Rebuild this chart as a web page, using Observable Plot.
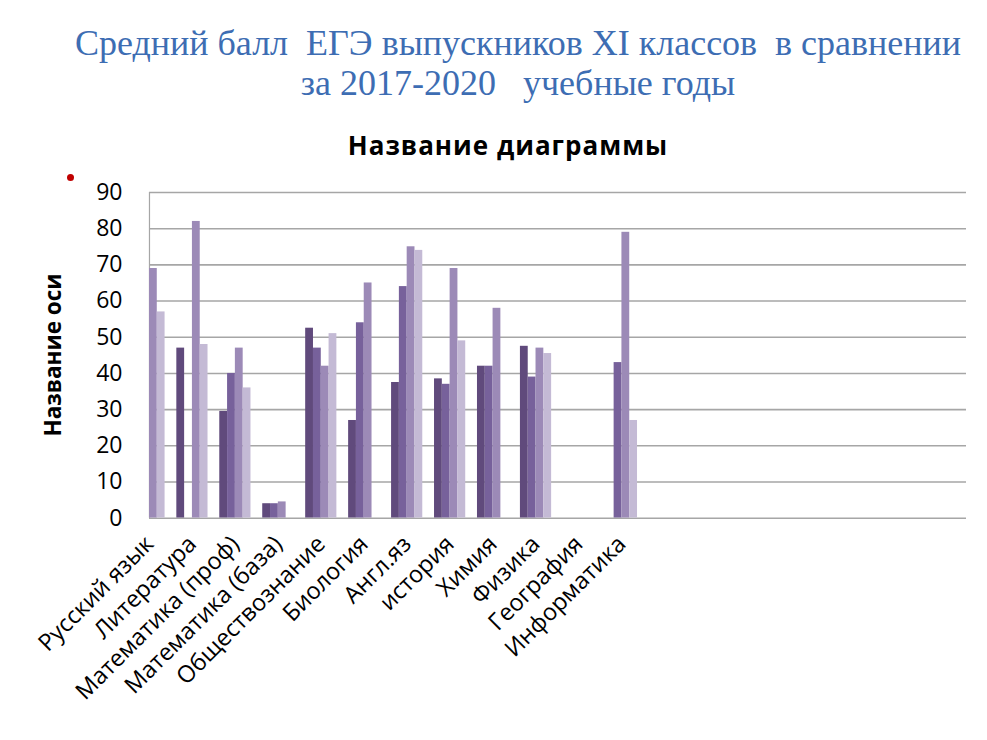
<!DOCTYPE html>
<html>
<head>
<meta charset="utf-8">
<script src="https://cdn.jsdelivr.net/npm/d3@7"></script>
<script src="https://cdn.jsdelivr.net/npm/@observablehq/plot@0.6"></script>
<style>
  html, body { margin: 0; padding: 0; background: #ffffff; }
  #page { position: relative; width: 987px; height: 740px; overflow: hidden; background: #fff; }
  .title { position: absolute; left: 0; width: 1036px; text-align: center; white-space: pre;
           font-family: "Liberation Serif", "DejaVu Serif", serif; color: #3d6db3; font-size: 36px; }
  #ctitle { position: absolute; left: 0; width: 1016px; text-align: center; top: 127px; letter-spacing: 1px;
            font-family: "Open Sans", sans-serif; font-weight: 700; font-size: 26px; color: #000; }
  #ytitle { position: absolute; left: 52px; top: 355px; transform: translate(-50%, -50%) rotate(-90deg);
            white-space: pre; font-family: "Open Sans", sans-serif; font-weight: 700; font-size: 22.5px; color: #000; }
  #dot { position: absolute; left: 66.5px; top: 173.5px; width: 7px; height: 7px; border-radius: 50%; background: #c00000; }
  #chart { position: absolute; left: 0; top: 165px; }
  #chart svg [aria-label^="x-axis"] text { font-size: 23.5px; }
  #chart svg [aria-label^="y-axis"] text { font-size: 23px; }
</style>
</head>
<body>
<div id="page">
  <div class="title" style="top:21.5px;">Средний балл  ЕГЭ выпускников XI классов  в сравнении</div>
  <div class="title" style="top:61.5px;">за 2017-2020   учебные годы</div>
  <div id="ctitle">Название диаграммы</div>
  <div id="ytitle"></div>
  <div id="dot"></div>
  <div id="chart"></div>
</div>
<script>
// Categories (subjects)
const categories = ["Русский язык", "Литература", "Математика (проф)", "Математика (база)",
  "Обществознание", "Биология", "Англ.яз", "история", "Химия", "Физика", "География", "Информатика"];
// Empty category slots continuing the axis to the right
const emptySlots = ["_e1", "_e2", "_e3", "_e4", "_e5", "_e6", "_e7", "_e8"];

// Series values
const series2017 = [null, 47, 29.5, 4, 52.5, 27, 37.5, 38.5, 42, 47.5, 0, 0];
const series2018 = [null, 0, 40, 4, 47, 54, 64, 37, 42, 39, 0, 43];
const series2019 = [69, 82, 47, 4.5, 42, 65, 75, 69, 58, 47, 0, 79];
const series2020 = [57, 48, 36, 0, 51, 0, 74, 49, 0, 45.5, 0, 27];

const seriesNames = ["2017", "2018", "2019", "2020"];
const seriesValues = [series2017, series2018, series2019, series2020];
const seriesColors = ["#604a7c", "#77619b", "#9c8ab7", "#c4bad5"];

const yTicks = [0, 10, 20, 30, 40, 50, 60, 70, 80, 90];
const yAxisTitle = "Название оси";
document.getElementById("ytitle").textContent = yAxisTitle;

const xDomain = [...categories, ...emptySlots];

const rows = [];
seriesNames.forEach((s, k) => {
  categories.forEach((c, i) => {
    rows.push({cat: c, series: s, k, value: seriesValues[k][i]});
  });
});

const barW = 7.8;
const step = 42.95;
const groupHalf = barW * 2;

const barMarks = seriesNames.map((s, k) => Plot.barY(rows.filter(r => r.series === s && r.value != null), {
  x: "cat", y: "value", fill: seriesColors[k],
  insetLeft: step / 2 - groupHalf + barW * k,
  insetRight: step / 2 + groupHalf - barW * (k + 1),
  clip: true
}));

const chart = Plot.plot({
  width: 987,
  height: 575,
  marginTop: 27,
  marginBottom: 222.3,
  marginLeft: 149,
  marginRight: 21,
  style: {fontFamily: "'Open Sans', sans-serif", fontSize: "22px", color: "#000", background: "transparent"},
  x: {domain: xDomain, range: [127.5, 986.5], padding: 0, round: false, tickSize: 0, tickPadding: 22, tickRotate: -45,
      tickFormat: d => (categories.includes(d) ? d : ""), label: null},
  y: {domain: [0, 90], ticks: yTicks, tickSize: 0, tickPadding: 27, label: null},
  marks: [
    Plot.ruleY(yTicks, {stroke: "#a6a6a6", strokeWidth: 1.6}),
    Plot.ruleX([categories[0]], {y1: 0, y2: 90, stroke: "#a6a6a6", strokeWidth: 1.2}),
    ...barMarks
  ]
});
document.getElementById("chart").appendChild(chart);
</script>
</body>
</html>
